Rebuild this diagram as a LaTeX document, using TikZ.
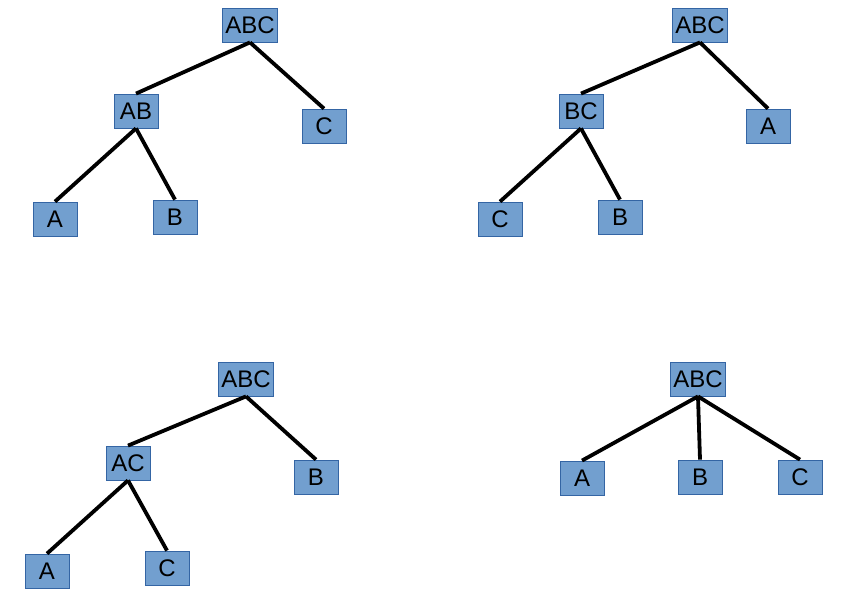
\documentclass[tikz,border=0pt]{standalone}
\usepackage{fontspec}
\setmainfont{Liberation Sans}
\definecolor{boxfill}{HTML}{729FCF}
\definecolor{boxline}{HTML}{3465A4}
\tikzset{box/.style={rectangle,draw=boxline,fill=boxfill,line width=0.8pt,inner sep=2.5pt,minimum width=44pt,minimum height=34pt,font=\fontsize{24}{28}\selectfont},line/.style={line width=3.8pt}}

\begin{document}
\begin{tikzpicture}[x=1pt,y=-1pt]
\useasboundingbox (0,0) rectangle (843,607);
% top left
\node[box] (abc1) at (250,25) {ABC};
\node[box] (ab1) at (136,111) {AB};
\node[box] (c1) at (324,126) {C};
\node[box] (a1) at (55,219) {A};
\node[box] (b1) at (175,217) {B};
\draw[line] (abc1.south) -- (ab1.north);
\draw[line] (abc1.south) -- (c1.north);
\draw[line] (ab1.south) -- (a1.north);
\draw[line] (ab1.south) -- (b1.north);
% top right
\node[box] (abc2) at (700,25) {ABC};
\node[box] (bc2) at (581,111) {BC};
\node[box] (a2) at (768,126) {A};
\node[box] (c2) at (500,219) {C};
\node[box] (b2) at (620,217) {B};
\draw[line] (abc2.south) -- (bc2.north);
\draw[line] (abc2.south) -- (a2.north);
\draw[line] (bc2.south) -- (c2.north);
\draw[line] (bc2.south) -- (b2.north);
% bottom left
\node[box] (abc3) at (246,379) {ABC};
\node[box] (ac3) at (128,463) {AC};
\node[box] (b3) at (316,477) {B};
\node[box] (a3) at (47,571) {A};
\node[box] (c3) at (167,568) {C};
\draw[line] (abc3.south) -- (ac3.north);
\draw[line] (abc3.south) -- (b3.north);
\draw[line] (ac3.south) -- (a3.north);
\draw[line] (ac3.south) -- (c3.north);
% bottom right
\node[box] (abc4) at (698,379) {ABC};
\node[box] (a4) at (582,478) {A};
\node[box] (b4) at (700,477) {B};
\node[box] (c4) at (800,477) {C};
\draw[line] (abc4.south) -- (a4.north);
\draw[line] (abc4.south) -- (b4.north);
\draw[line] (abc4.south) -- (c4.north);
\end{tikzpicture}
\end{document}
